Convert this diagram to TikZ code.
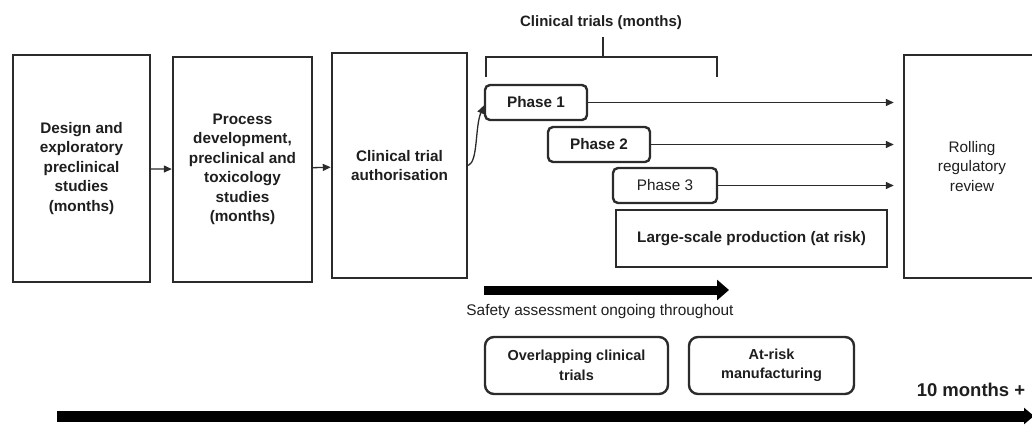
\documentclass[tikz,border=0pt]{standalone}
\usepackage{fontspec}
\setmainfont{Liberation Sans}
\usetikzlibrary{arrows.meta}
\definecolor{cInk}{HTML}{1E1E1E}
\definecolor{cLine}{HTML}{2B2B2B}
\tikzset{
    x=1pt, y=1pt,
    stage/.style={draw=cLine, line width=2.4pt, text=cInk, align=center,
                  inner sep=0pt, font=\bfseries\fontsize{15.3}{19.5}\selectfont},
    phase/.style={stage, rounded corners=5pt, minimum width=102pt, minimum height=35pt},
    keybox/.style={stage, rounded corners=9pt, minimum height=57pt,
                   font=\bfseries\fontsize{14.5}{19.5}\selectfont},
    flow/.style={-{Triangle[length=8pt, width=7pt]}, line width=1.3pt, cLine},
    heavy/.style={-{Triangle[length=12pt, width=20pt]}, line width=9pt, black},
    brace/.style={line width=1.8pt, cLine},
    lbl/.style={text=cInk, inner sep=1pt},
}
\begin{document}
\begin{tikzpicture}
    \useasboundingbox (0,0) rectangle (1032,424);
    \clip (0,0) rectangle (1032,424);

    % stages
    \node[stage, minimum width=137pt, minimum height=227pt] (design) at (81.5,255.5)
        {Design and\\exploratory\\preclinical\\studies\\(months)};
    \node[stage, minimum width=139pt, minimum height=225pt] (process) at (242.5,254.5)
        {Process\\development,\\preclinical and\\toxicology\\studies\\(months)};
    \node[stage, minimum width=135pt, minimum height=225pt] (auth) at (399.5,258.5)
        {Clinical trial\\authorisation};
    \node[stage, font=\fontsize{15.3}{19.5}\selectfont, minimum width=136pt,
          minimum height=223pt] (review) at (972,257.5)
        {Rolling\\regulatory\\review};

    % clinical phases
    \node[phase] (p1) at (536,321.5) {Phase 1};
    \node[phase] (p2) at (599,279.5) {Phase 2};
    \node[phase, font=\fontsize{15.3}{19.5}\selectfont, minimum width=104pt]
        (p3) at (665,238.5) {Phase 3};
    \node[stage, minimum width=271pt, minimum height=57pt] (prod) at (751.5,185.5)
        {Large-scale production (at risk)};

    \node[lbl, font=\bfseries\fontsize{15}{17}\selectfont] (ctl) at (601,401)
        {Clinical trials (months)};
    \draw[brace] (603,387) -- (603,367);
    \draw[brace] (486,347) -- (486,367) -- (717,367) -- (717,347);

    \draw[flow] (design) -- (process);
    \draw[flow] (process) -- (auth);
    \draw[flow] (auth.east) .. controls +(10,4) and +(-9,-22) .. ([yshift=-3pt]p1.west);
    \draw[flow] (p1.east) -- ([xshift=-9pt]p1.east -| review.west);
    \draw[flow] (p2.east) -- ([xshift=-9pt]p2.east -| review.west);
    \draw[flow] (p3.east) -- ([xshift=-9pt]p3.east -| review.west);

    % safety
    \coordinate (safeA) at (484,134);
    \coordinate (safeB) at (729,134);
    \draw[heavy] (safeA) -- (safeB);
    \node[lbl, font=\fontsize{15.4}{17}\selectfont] (safe) at (600,112)
        {Safety assessment ongoing throughout};

    \node[keybox, minimum width=183pt] (overlap) at (576.5,58.5)
        {Overlapping clinical\\trials};
    \node[keybox, minimum width=165pt] (atrisk) at (771.5,58.5)
        {At-risk\\manufacturing};

    % timeline
    \node[lbl, font=\bfseries\fontsize{18.5}{22}\selectfont] (months) at (971,34)
        {10 months +};
    \coordinate (lineA) at (57,8);
    \coordinate (lineB) at (1034,8);
    \draw[heavy, -{Triangle[length=10pt, width=16pt]}, line width=11pt] (lineA) -- (lineB);
\end{tikzpicture}
\end{document}
